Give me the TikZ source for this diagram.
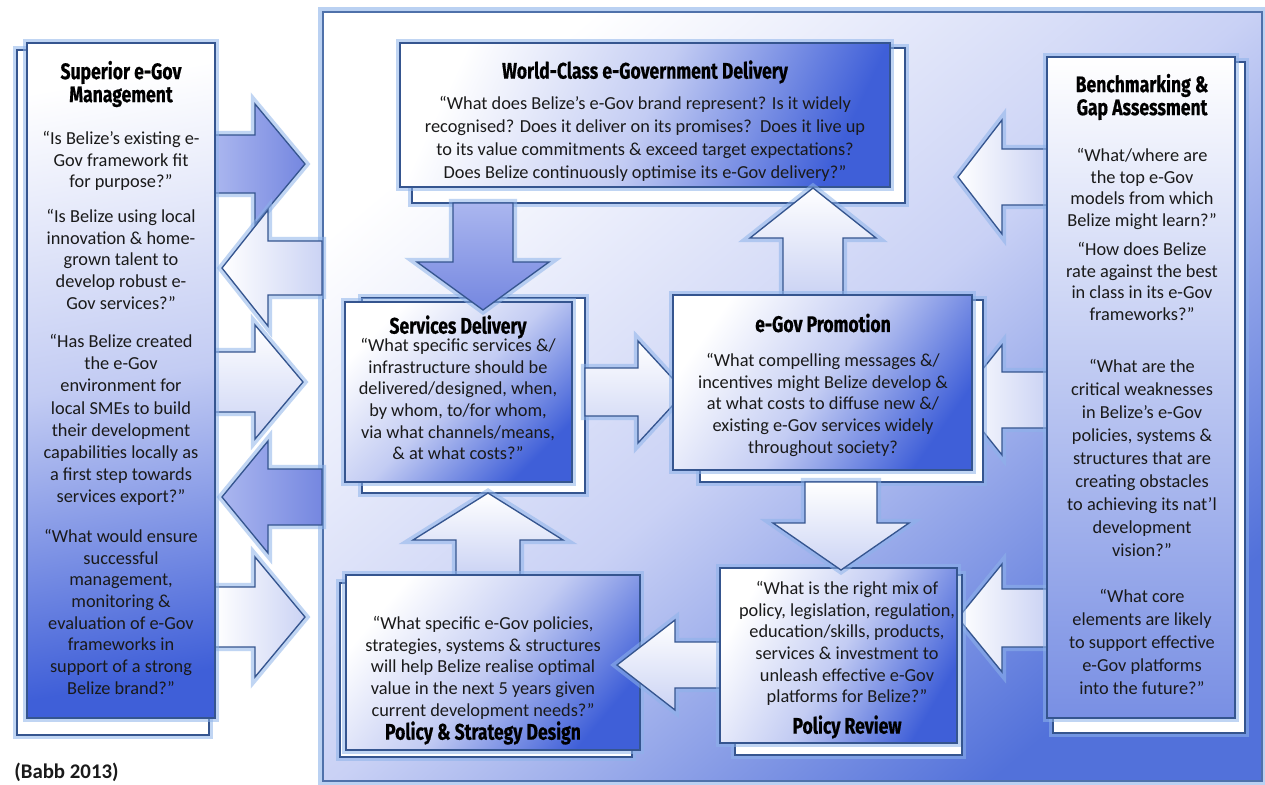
\documentclass[tikz,border=0pt]{standalone}
\usepackage{fontspec}
\setmainfont{Carlito}
\newfontfamily\headfont[FakeStretch=0.78,FakeBold=0.6]{Fira Sans}
\definecolor{edgec}{HTML}{35558F}
\definecolor{glowc}{HTML}{8DB3EA}
\definecolor{boxblue}{HTML}{3F5FD8}
\definecolor{boxmid}{HTML}{C3CCF3}
\definecolor{panelblue}{HTML}{5271DA}
\definecolor{panelmid}{HTML}{C9D1F5}
\definecolor{arrblue}{HTML}{7587E0}
\definecolor{arrblue2}{HTML}{AAB6EF}
\definecolor{arrlight}{HTML}{CBD3F4}
\definecolor{textc}{HTML}{1A1A1A}
\newcommand\blockh[7]{\path[#1] (#2,#5-#6) -- (#3,#5-#6) -- (#3,#5-#7) -- (#4,#5) -- (#3,#5+#7) -- (#3,#5+#6) -- (#2,#5+#6) -- cycle;}
\newcommand\blockv[7]{\path[#1] (#5-#6,#2) -- (#5-#6,#3) -- (#5-#7,#3) -- (#5,#4) -- (#5+#7,#3) -- (#5+#6,#3) -- (#5+#6,#2) -- cycle;}
\tikzset{
  glowline/.style={draw=glowc, line width=5pt, opacity=0.55},
  frontbox/.style={preaction={glowline}, draw=edgec, line width=0.9pt,
     top color=white, bottom color=boxblue, middle color=boxmid, shading angle=#1},
  frontbox/.default=45,
  backbox/.style={preaction={glowline}, draw=edgec, line width=0.9pt, fill=white},
  arrb/.style={preaction={glowline}, draw=edgec, line width=0.8pt,
     top color=arrblue2, bottom color=arrblue, shading angle=#1},
  arrb/.default=0,
  arrl/.style={preaction={glowline}, draw=edgec, line width=0.8pt,
     top color=white, bottom color=arrlight, shading angle=#1},
  arrl/.default=0,
  txt/.style={align=center, inner sep=0pt, text=textc, anchor=north,
     font=\fontsize{11}{13}\selectfont},
  txtw/.style={txt, font=\fontsize{11}{13.8}\selectfont},
  headtxt/.style={align=center, inner sep=0pt, text=black,
     font=\headfont\bfseries\fontsize{13.5}{13.8}\selectfont},
}
\begin{document}
\begin{tikzpicture}[x=0.6pt,y=-0.6pt]
\useasboundingbox (0,0) rectangle (1265,784);
\clip (0,0) rectangle (1265,784);
\fill[white] (0,0) rectangle (1265,784);
% main panel
\path[preaction={draw=glowc, line width=6pt, opacity=0.6}, draw=edgec!70!glowc, line width=1pt,
  top color=white, bottom color=panelblue, middle color=panelmid, shading angle=40]
  (323,12) rectangle (1262,781);
% left arrows
\blockh{arrb=90}{215}{255}{305}{164}{29}{60}
\blockh{arrl=90}{322}{268}{222}{268}{27}{58}
\blockh{arrl=0}{215}{255}{303}{382}{30}{57}
\blockh{arrb=90}{322}{268}{222}{497}{28}{56}
\blockh{arrl=90}{215}{255}{305}{617}{30}{60}
% left panel
\path[backbox] (17,50) rectangle (209,735);
\path[frontbox=10] (27,43) rectangle (215,718);
% right arrows
\blockh{arrl=90}{1047}{1002}{958}{177}{28}{57}
\blockh{arrl=90}{1047}{1002}{958}{400}{28}{55}
\blockh{arrl=90}{1047}{1002}{958}{618}{29}{54}
% right panel
\path[backbox] (1053,62) rectangle (1245,733);
\path[frontbox=10, bottom color=boxblue!70!white] (1047,57) rectangle (1235,718);
% top box
\path[backbox] (412,48) rectangle (905,203);
\path[frontbox=65] (400,43) rectangle (890,187);
% services
\path[backbox] (362,298) rectangle (585,493);
\path[frontbox=45] (345,302) rectangle (572,482);
\blockv{arrb=0}{203}{262}{310}{483}{30}{66}
\blockv{arrl=0}{295}{238}{188}{813}{30}{63}
% promotion
\path[backbox] (700,300) rectangle (983,482);
\blockh{arrl=0}{585}{638}{685}{392}{24}{51}
\path[frontbox=55] (673,295) rectangle (972,470);
\blockv{arrl=0}{575}{540}{493}{488}{32}{75}
% strategy
\path[backbox] (340,583) rectangle (632,757);
\path[frontbox=50] (346,575) rectangle (640,750);
\blockh{arrl=0}{720}{675}{617}{665}{23}{45}
% review
\path[backbox] (735,575) rectangle (962,755);
\path[frontbox=60] (720,568) rectangle (957,743);
\blockv{arrl=0}{482}{523}{570}{841}{36}{68}
% texts: left panel
\node[headtxt] (lh) at (121,84) {Superior e-Gov\\Management};
\node[txt] (l1) at (121,131) {“Is Belize’s existing e-\\Gov framework fit\\for purpose?”};
\node[txt] (l2) at (121,209) {“Is Belize using local\\innovation \& home-\\grown talent to\\develop robust e-\\Gov services?”};
\node[txt, font=\fontsize{11}{13.3}\selectfont] (l3) at (121,334) {“Has Belize created\\the e-Gov\\environment for\\local SMEs to build\\their development\\capabilities locally as\\a first step towards\\services export?”};
\node[txt] (l4) at (121,529) {“What would ensure\\successful\\management,\\monitoring \&\\evaluation of e-Gov\\frameworks in\\support of a strong\\Belize brand?”};
% top box
\node[headtxt] (th) at (645,72) {World-Class e-Government Delivery};
\node[txtw] (tb) at (645,96) {“What does Belize’s e-Gov brand represent? Is it widely\\recognised? Does it deliver on its promises?\ \ Does it live up\\to its value commitments \& exceed target expectations?\\Does Belize continuously optimise its e-Gov delivery?”};
% services
\node[headtxt] (sh) at (458,327) {Services Delivery};
\node[txt] (sb) at (458,338) {“What specific services \&/\\infrastructure should be\\delivered/designed, when,\\by whom, to/for whom,\\via what channels/means,\\\& at what costs?”};
% promotion
\node[headtxt] (ph) at (823,323) {e-Gov Promotion};
\node[txt] (pb) at (823,353) {“What compelling messages \&/\\incentives might Belize develop \&\\at what costs to diffuse new \&/\\existing e-Gov services widely\\throughout society?};
% strategy
\node[txt] (stb) at (483,616) {“What specific e-Gov policies,\\strategies, systems \& structures\\will help Belize realise optimal\\value in the next 5 years given\\current development needs?”};
\node[headtxt] (sth) at (483,733) {Policy \& Strategy Design};
% review
\node[txt] (rb) at (847,581) {“What is the right mix of\\policy, legislation, regulation,\\education/skills, products,\\services \& investment to\\unleash effective e-Gov\\platforms for Belize?”};
\node[headtxt] (rh) at (847,727) {Policy Review};
% benchmarking
\node[headtxt] (bh) at (1142,97) {Benchmarking \&\\Gap Assessment};
\node[txt] (b1) at (1142,148) {“What/where are\\the top e-Gov\\models from which\\Belize might learn?”};
\node[txt] (b2) at (1142,242) {“How does Belize\\rate against the best\\in class in its e-Gov\\frameworks?”};
\node[txtw] (b3) at (1142,359) {“What are the\\critical weaknesses\\in Belize’s e-Gov\\policies, systems \&\\structures that are\\creating obstacles\\to achieving its nat’l\\development\\vision?”};
\node[txtw] (b4) at (1142,589) {“What core\\elements are likely\\to support effective\\e-Gov platforms\\into the future?”};
% caption
\node[anchor=west, inner sep=0pt, text=textc, font=\bfseries\fontsize{12.5}{15}\selectfont] (cap) at (14,772) {(Babb 2013)};
\end{tikzpicture}
\end{document}
